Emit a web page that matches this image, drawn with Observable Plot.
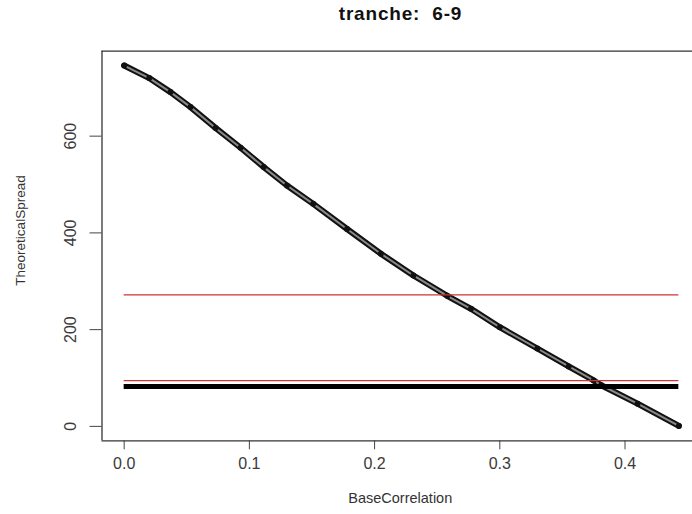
<!DOCTYPE html>
<html><head><meta charset="utf-8">
<script src="https://cdn.jsdelivr.net/npm/d3@7"></script>
<script src="https://cdn.jsdelivr.net/npm/@observablehq/plot@0.6"></script>
<style>
body{margin:0;background:#fff;}
#wrap{position:relative;width:692px;height:514px;overflow:hidden;background:#fff;font-family:"Liberation Sans",Arial,sans-serif;}
#title{position:absolute;left:101px;width:599px;top:3px;text-align:center;font-weight:bold;font-size:19px;letter-spacing:0.8px;color:#111;white-space:pre;}
#chart{position:absolute;left:0;top:36px;}
</style></head><body>
<div id="wrap"><div id="title">tranche:  6-9</div><div id="chart"></div></div>
<script>
// Data
const baseCorrelation = [0, 0.02, 0.037, 0.053, 0.073, 0.093, 0.1115, 0.13, 0.151, 0.178, 0.205, 0.231, 0.258, 0.277, 0.30, 0.33, 0.355, 0.375, 0.381, 0.41, 0.443];
const theoreticalSpread = [746, 720, 691, 660, 617, 576, 536, 498, 460, 408, 357, 312, 270, 243, 205, 161, 124, 95, 85, 47, 1];
const redLevels = [271.8, 94.5];
const marketSpread = [82.7];
const xTicks = [0, 0.1, 0.2, 0.3, 0.4];
const yTicks = [0, 200, 400, 600];
const titleText = "tranche:  6-9";
const xLabel = "BaseCorrelation";
const yLabel = "TheoreticalSpread";

const pts = baseCorrelation.map((x, i) => ({x, y: theoreticalSpread[i]}));
const xDomain = [-0.0177, 0.4539];
const yDomain = [-29.8, 775.6];
const xMax = d3.max(baseCorrelation);
const font = "Liberation Sans, Arial, sans-serif";
const fmt = d3.format(".1f");

const chart = Plot.plot({
  width: 692,
  height: 478,
  marginLeft: 101.5,
  marginRight: 0,
  marginTop: 14.7,
  marginBottom: 73.7,
  style: {fontFamily: font, background: "#fff", overflow: "visible"},
  x: {domain: xDomain},
  y: {domain: yDomain},
  marks: [
    Plot.line(pts, {x: "x", y: "y", stroke: "#111", strokeWidth: 6}),
    Plot.line(pts, {x: "x", y: "y", stroke: "#8a8a8a", strokeWidth: 2}),
    Plot.dot(pts, {x: "x", y: "y", r: 3, fill: "#111", stroke: null}),
    Plot.ruleY(marketSpread, {y: d => d, x1: 0, x2: xMax, stroke: "#000", strokeWidth: 5}),
    Plot.ruleY(redLevels, {y: d => d, x1: 0, x2: xMax, stroke: "#cc3535", strokeWidth: 1.2}),
    Plot.ruleX([xDomain[0]], {stroke: "#333", strokeWidth: 1.3}),
    Plot.ruleY([yDomain[0], yDomain[1]], {stroke: "#333", strokeWidth: 1.3}),
    Plot.axisX(xTicks, {tickSize: 9, fill: "none", stroke: "#444", label: null}),
    Plot.axisY(yTicks, {tickSize: 12, fill: "none", stroke: "#444", label: null}),
    Plot.text(xTicks, {x: d => d, frameAnchor: "bottom", dy: 28, text: d => fmt(d), fontSize: 16, fill: "#3a3a3a", textAnchor: "middle"}),
    Plot.text(yTicks, {y: d => d, frameAnchor: "left", dx: -31, rotate: -90, text: d => String(d), fontSize: 16, fill: "#3a3a3a", textAnchor: "middle"}),
    Plot.text([xLabel], {frameAnchor: "bottom", dx: 3, dy: 62, text: d => d, fontSize: 14.5, fill: "#333", textAnchor: "middle"}),
    Plot.text([yLabel], {frameAnchor: "left", dx: -81.5, dy: -15.5, rotate: -90, text: d => d, fontSize: 13.5, fill: "#333", textAnchor: "middle"})
  ]
});
document.getElementById("chart").appendChild(chart);
document.getElementById("title").textContent = titleText;
</script>
</body></html>
